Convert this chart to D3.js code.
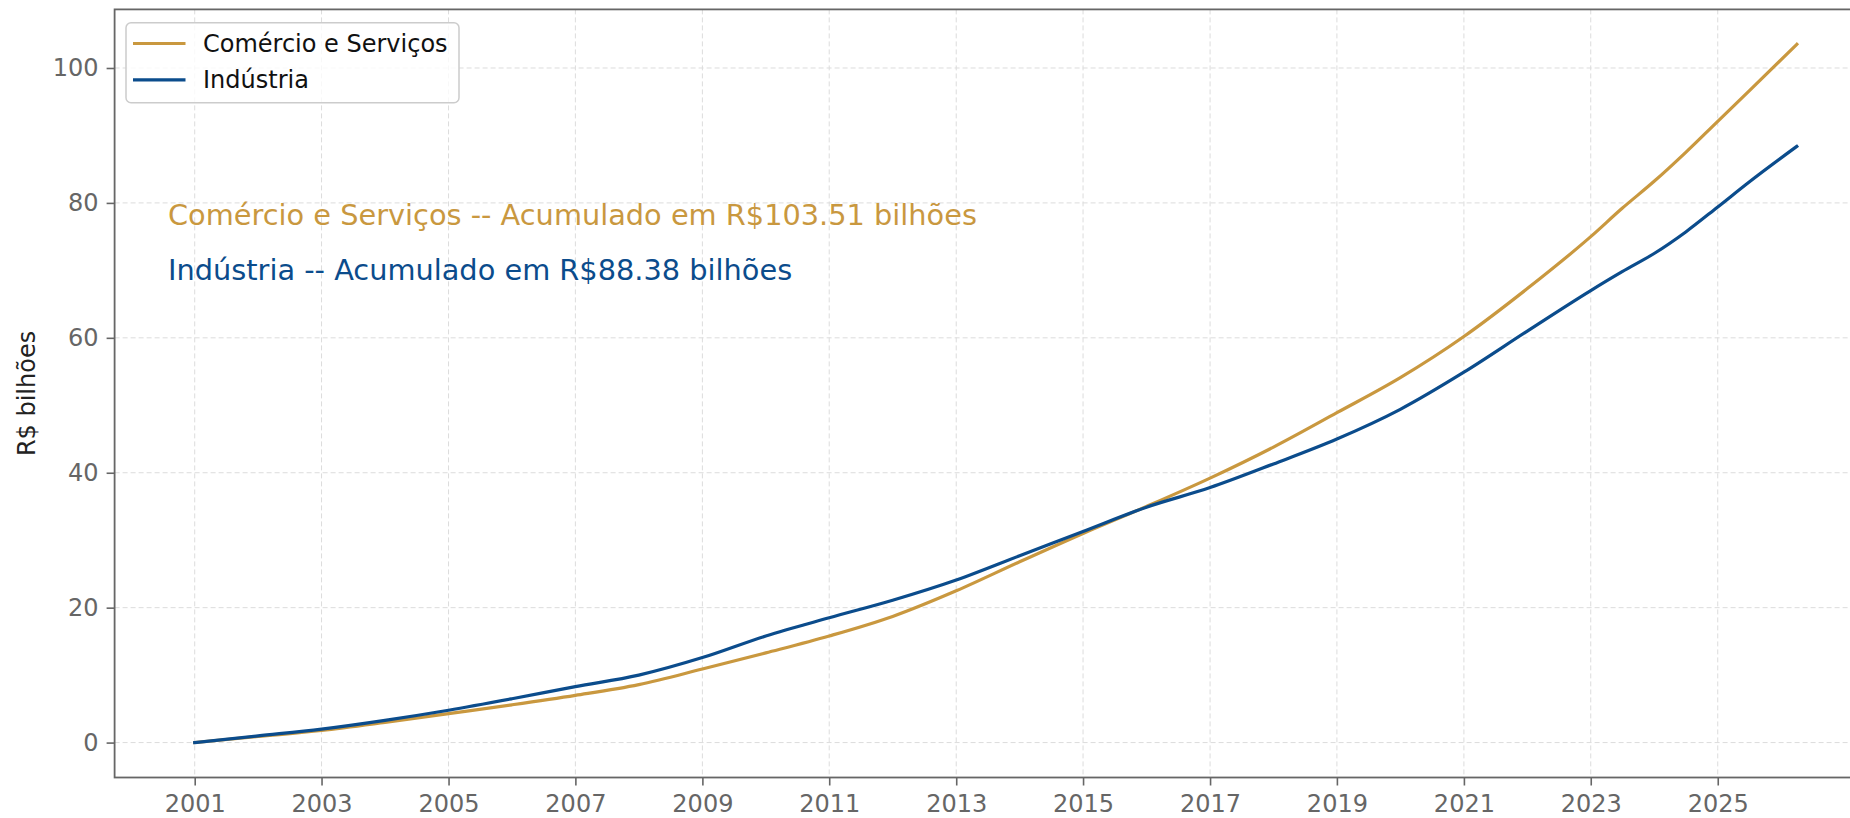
<!DOCTYPE html>
<html>
<head>
<meta charset="utf-8">
<script src="https://cdn.jsdelivr.net/npm/d3@7"></script>
<style>
  html, body { margin: 0; padding: 0; background: #fff; }
  svg { display: block; font-family: "DejaVu Sans", sans-serif; }
</style>
</head>
<body>
<svg id="chart" width="1850" height="818"></svg>
<script>
// ---- data ----
const periods = ["2001-01","2002-01","2003-01","2004-01","2005-01","2006-01","2007-01","2008-01",
  "2009-01","2010-01","2011-01","2012-01","2013-01","2014-01","2015-01","2016-01","2017-01",
  "2018-01","2019-01","2020-01","2021-01","2022-01","2023-01","2023-07","2024-01","2024-07",
  "2025-01","2025-07","2026-04"];
const comercioServicos = [0, 0.9, 1.8, 3.0, 4.3, 5.6, 7.0, 8.6, 10.9, 13.3, 15.8, 18.7, 22.5,
  26.8, 31.0, 35.0, 39.2, 43.8, 48.9, 54.1, 60.2, 67.3, 75.0, 79.2, 83.2, 87.5,
  92.1, 96.6, 103.51];
const industria = [0, 1.0, 2.0, 3.3, 4.8, 6.5, 8.3, 10.0, 12.6, 15.8, 18.5, 21.1, 24.1,
  27.7, 31.3, 34.9, 37.8, 41.3, 45.0, 49.4, 54.9, 61.0, 67.0, 69.8, 72.5, 75.7,
  79.4, 83.1, 88.38];
const seriesNames = ["Comércio e Serviços", "Indústria"];
const seriesColors = ["#C9983F", "#0B4C8C"];
const xTickYears = [2001,2003,2005,2007,2009,2011,2013,2015,2017,2019,2021,2023,2025];
const yTickValues = [0, 20, 40, 60, 80, 100];
const yLabel = "R$ bilhões";
const annotations = [
  "Comércio e Serviços -- Acumulado em R$103.51 bilhões",
  "Indústria -- Acumulado em R$88.38 bilhões"
];

(function draw() {
  const parse = d3.timeParse("%Y-%m");
  const dates = periods.map(parse);
  const svg = d3.select("#chart");
  const mLeft = 114.6, mTop = 9.4, mBottom = 777.5;
  const plotW = 1762.3;
  const mRight = mLeft + plotW;

  const tMin = +dates[0], tMax = +dates[dates.length - 1];
  const tPad = (tMax - tMin) * 0.05;
  const x = d3.scaleTime().domain([new Date(tMin - tPad), new Date(tMax + tPad)]).range([mLeft, mRight]);
  const yMax = d3.max([...comercioServicos, ...industria]);
  const yPad = yMax * 0.05;
  const y = d3.scaleLinear().domain([-yPad, yMax + yPad]).range([mBottom, mTop]);

  const gridColor = "#dcdcdc";
  const spineColor = "#666";
  const tickTextColor = "#666";

  const xTicks = xTickYears.map(yr => new Date(yr, 0, 1));
  svg.append("g").selectAll("line").data(xTicks).join("line")
    .attr("x1", d => x(d)).attr("x2", d => x(d)).attr("y1", mTop).attr("y2", mBottom)
    .attr("stroke", gridColor).attr("stroke-width", 1).attr("stroke-dasharray", "5,3");
  svg.append("g").selectAll("line").data(yTickValues).join("line")
    .attr("x1", mLeft).attr("x2", mRight).attr("y1", d => y(d)).attr("y2", d => y(d))
    .attr("stroke", gridColor).attr("stroke-width", 1).attr("stroke-dasharray", "5,3");

  const xAxis = d3.axisBottom(x).tickValues(xTicks).tickFormat(d3.timeFormat("%Y"))
    .tickSize(8).tickPadding(9).tickSizeOuter(0);
  const gx = svg.append("g").attr("transform", `translate(0,${mBottom})`).call(xAxis);
  gx.select(".domain").remove();
  gx.selectAll(".tick line").attr("stroke", spineColor).attr("stroke-width", 1.6);
  gx.selectAll(".tick text").attr("fill", tickTextColor).attr("font-size", 24)
    .attr("font-family", "DejaVu Sans");

  const yAxis = d3.axisLeft(y).tickValues(yTickValues).tickSize(8).tickPadding(8).tickSizeOuter(0);
  const gy = svg.append("g").attr("transform", `translate(${mLeft},0)`).call(yAxis);
  gy.select(".domain").remove();
  gy.selectAll(".tick line").attr("stroke", spineColor).attr("stroke-width", 1.6);
  gy.selectAll(".tick text").attr("fill", tickTextColor).attr("font-size", 24)
    .attr("font-family", "DejaVu Sans");

  svg.append("rect").attr("x", mLeft).attr("y", mTop).attr("width", plotW).attr("height", mBottom - mTop)
    .attr("fill", "none").attr("stroke", spineColor).attr("stroke-width", 1.8);

  svg.append("text").attr("transform", `translate(27,${(mTop + mBottom) / 2}) rotate(-90)`)
    .attr("text-anchor", "middle").attr("dominant-baseline", "central")
    .attr("font-size", 24).attr("fill", "#222").text(yLabel);

  const line = d3.line().x((d, i) => x(dates[i])).y(d => y(d)).curve(d3.curveMonotoneX);
  [comercioServicos, industria].forEach((vals, k) => {
    svg.append("path").datum(vals).attr("d", line)
      .attr("fill", "none").attr("stroke", seriesColors[k]).attr("stroke-width", 3.2)
      .attr("stroke-linejoin", "round").attr("stroke-linecap", "square");
  });

  annotations.forEach((t, k) => {
    svg.append("text").attr("x", 168).attr("y", 225 + k * 55)
      .attr("font-size", 28.8).attr("fill", seriesColors[k]).text(t);
  });

  const lg = svg.append("g");
  lg.append("rect").attr("x", 126).attr("y", 22.7).attr("width", 333).attr("height", 80)
    .attr("rx", 5).attr("ry", 5).attr("fill", "#fff").attr("fill-opacity", 0.8)
    .attr("stroke", "#cccccc").attr("stroke-width", 1.5);
  seriesNames.forEach((name, k) => {
    const cy = 43.5 + k * 36.3;
    lg.append("line").attr("x1", 133).attr("x2", 185.5).attr("y1", cy).attr("y2", cy)
      .attr("stroke", seriesColors[k]).attr("stroke-width", 3.2);
    lg.append("text").attr("x", 203).attr("y", cy).attr("dominant-baseline", "central")
      .attr("font-size", 24).attr("fill", "#111").text(name);
  });
})();
</script>
</body>
</html>
